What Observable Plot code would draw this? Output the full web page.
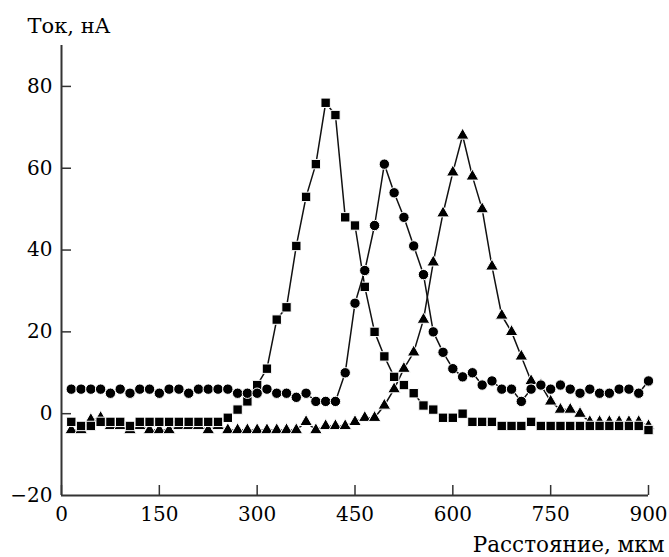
<!DOCTYPE html>
<html>
<head>
<meta charset="utf-8">
<script src="https://cdn.jsdelivr.net/npm/d3@7"></script>
<script src="https://cdn.jsdelivr.net/npm/@observablehq/plot@0.6"></script>
<style>
  html, body { margin: 0; padding: 0; background: #fff; }
</style>
</head>
<body>
<div id="chart"></div>
<script>
// Distance, µm (every 15 µm)
const distance = [15,30,45,60,75,90,105,120,135,150,165,180,195,210,225,240,255,270,285,300,
  315,330,345,360,375,390,405,420,435,450,465,480,495,510,525,540,555,570,585,600,
  615,630,645,660,675,690,705,720,735,750,765,780,795,810,825,840,855,870,885,900];

// Current, nA — squares
const squares = [-2,-3,-3,-2,-2,-2,-3,-2,-2,-2,-2,-2,-2,-2,-2,-2,-1,1,3,7,
  11,23,26,41,53,61,76,73,48,46,31,20,14,9,7,5,2,1,-1,-1,
  0,-2,-2,-2,-3,-3,-3,-2,-3,-3,-3,-3,-3,-3,-3,-3,-3,-3,-3,-4];

// Current, nA — circles
const circles = [6,6,6,6,5,6,5,6,6,5,6,6,5,6,6,6,6,5,5,5,
  6,5,5,4,5,3,3,3,10,27,35,46,61,54,48,41,34,20,15,11,
  9,10,7,8,6,6,3,6,7,6,7,6,5,6,5,5,6,6,5,8];

// Current, nA — triangles
const triangles = [-4,-4,-1.5,-1,-3,-3,-4,-3,-4,-4,-4,-3,-3,-3,-4,-3,-4,-4,-4,-4,
  -4,-4,-4,-4,-2,-4,-3,-3,-3,-2,-1,-1,2,6,11,15,23,37,49,59,
  68,58,50,36,24,20,14,8,7,3,1,1,0,-2,-2,-2,-2,-2,-2,-3];

const xTicks = [0,150,300,450,600,750,900];
const yTicks = [-20,0,20,40,60,80];

const xLabel = "Расстояние, мкм";
const yLabel = "Ток, нА";

const series = [
  {name: "triangles", values: triangles, symbol: "triangle", r: 4.7},
  {name: "squares", values: squares, symbol: "square", r: 5.3},
  {name: "circles", values: circles, symbol: "circle", r: 5.2}
];

const rows = s => distance.map((x, i) => ({x, y: s.values[i]}));

const fmt = d => d < 0 ? "\u2212" + Math.abs(d) : String(d);
const FONT = "DejaVu Serif";

const marks = [];
for (const s of series) {
  const data = rows(s);
  marks.push(Plot.line(data, {x: "x", y: "y", stroke: "#111", strokeWidth: 1.5}));
  marks.push(Plot.dot(data, {x: "x", y: "y", symbol: s.symbol, r: s.r, fill: "#000", stroke: "#fff", strokeWidth: 1}));
}

const chart = Plot.plot({
  width: 669,
  height: 557,
  marginLeft: 61,
  marginRight: 21,
  marginTop: 45,
  marginBottom: 62,
  style: {fontFamily: FONT, fontSize: "20px", background: "#fff", color: "#000"},
  x: {domain: [0, 900]},
  y: {domain: [-20, 90]},
  marks: [
    Plot.axisX(xTicks, {label: null, tickSize: -10, tickFormat: () => "", stroke: "#333", strokeWidth: 1.5}),
    Plot.axisX(xTicks, {label: null, tickSize: 0, tickPadding: 11, tickFormat: fmt, fontSize: 20, fontFamily: FONT, fill: "#000"}),
    Plot.axisY(yTicks.filter(d => d !== -20), {label: null, tickSize: -10, tickFormat: () => "", stroke: "#333", strokeWidth: 1.5}),
    Plot.axisY(yTicks, {label: null, tickSize: 0, tickPadding: 9, tickFormat: fmt, fontSize: 20, fontFamily: FONT, fill: "#000"}),
    Plot.ruleX([0], {stroke: "#333", strokeWidth: 2}),
    Plot.ruleY([-20], {stroke: "#333", strokeWidth: 2}),
    ...marks,
    Plot.text([yLabel], {frameAnchor: "top-left", dx: -34, dy: -19, textAnchor: "start", lineAnchor: "middle", fontSize: 21, fontFamily: FONT, fill: "#000"}),
    Plot.text([xLabel], {frameAnchor: "bottom-right", dx: 16, dy: 50, textAnchor: "end", lineAnchor: "middle", fontSize: 21.5, fontFamily: FONT, fill: "#000"})
  ]
});
document.getElementById("chart").appendChild(chart);
</script>
</body>
</html>
